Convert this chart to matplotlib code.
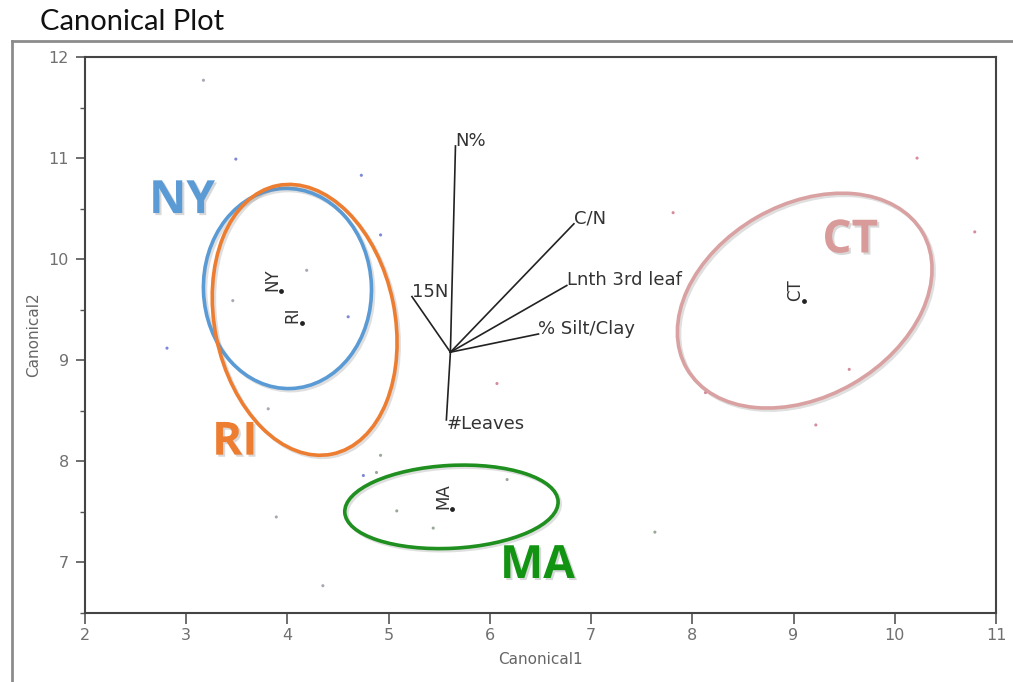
import matplotlib
matplotlib.use('Agg')
import matplotlib.pyplot as plt
import matplotlib.patheffects as pe
from matplotlib.patches import Ellipse
from matplotlib.lines import Line2D

# Group means
groups = ['NY', 'RI', 'MA', 'CT']
mean_x = [3.94, 4.14, 5.63, 9.10]
mean_y = [9.69, 9.37, 7.53, 9.59]

# Confidence ellipses: centre, width, height (data units) and tilt in degrees
ell_cx = [4.00, 4.17, 5.62, 9.11]
ell_cy = [9.71, 9.40, 7.55, 9.59]
ell_w = [1.66, 1.78, 2.11, 2.69]
ell_h = [1.98, 2.71, 0.82, 1.90]
ell_angle = [2, 11.5, 3, 30]

# Big group labels
label_x = [2.96, 3.48, 6.47, 9.56]
label_y = [10.58, 8.19, 6.97, 10.19]

# Individual observations
pts_x = [3.49, 4.73, 4.92, 4.60, 2.81, 4.75,
         3.17, 4.19, 3.46, 3.81, 3.89, 4.35,
         4.92, 4.88, 5.08, 5.44, 6.17, 7.63,
         6.07, 7.81, 10.22, 10.79, 9.55, 9.22, 8.13]
pts_y = [10.99, 10.83, 10.24, 9.43, 9.12, 7.86,
         11.77, 9.89, 9.59, 8.52, 7.45, 6.77,
         8.06, 7.89, 7.51, 7.34, 7.82, 7.30,
         8.77, 10.46, 11.00, 10.27, 8.91, 8.36, 8.68]
pts_group = ['NY'] * 6 + ['RI'] * 6 + ['MA'] * 6 + ['CT'] * 7

# Biplot rays
ray_origin = (5.61, 9.08)
ray_names = ['N%', 'C/N', 'Lnth 3rd leaf', '% Silt/Clay', '15N', '#Leaves']
ray_x = [5.66, 6.83, 6.76, 6.48, 5.23, 5.57]
ray_y = [11.12, 10.35, 9.74, 9.26, 9.63, 8.41]

ell_colors = {'NY': '#5b9bd5', 'RI': '#ed7d31', 'MA': '#1f8f1f', 'CT': '#d9a1a1'}
label_colors = {'NY': '#5b9bd5', 'RI': '#ed7d31', 'MA': '#129412', 'CT': '#d99a9a'}
pt_colors = {'NY': '#7d88d8', 'RI': '#a8a8b4', 'MA': '#9aa89a', 'CT': '#d68c9c'}

fig = plt.figure(figsize=(10.13, 6.82), dpi=100)
ax = fig.add_axes([85 / 1013, 69 / 682, 911 / 1013, 556 / 682])

# outer window frame
fig.add_artist(Line2D([12 / 1013, 1.0], [1 - 41 / 682, 1 - 41 / 682],
                      transform=fig.transFigure, color='#8c8c8c', lw=2))
fig.add_artist(Line2D([12 / 1013, 12 / 1013], [0, 1 - 41 / 682],
                      transform=fig.transFigure, color='#8c8c8c', lw=2))

fig.text(40 / 1013, 1 - 30 / 682, 'Canonical Plot', fontsize=21,
         family=['Lato', 'DejaVu Sans'], va='baseline', color='#111111')

# observations
ax.scatter(pts_x, pts_y, s=5, c=[pt_colors[g] for g in pts_group],
           linewidths=0, zorder=2)

# ellipses
for g, cx, cy, w, h, a in zip(groups, ell_cx, ell_cy, ell_w, ell_h, ell_angle):
    e = Ellipse((cx, cy), w, h, angle=a, fill=False, lw=2.6,
                edgecolor=ell_colors[g], zorder=3)
    e.set_path_effects([pe.SimpleLineShadow(offset=(1.5, -1.5), shadow_color='gray', alpha=0.25),
                        pe.Normal()])
    ax.add_patch(e)

# means with rotated labels
ax.scatter(mean_x, mean_y, s=6, color='#222222', zorder=4)
for g, cx, cy in zip(groups, mean_x, mean_y):
    ax.text(cx, cy, g, rotation=90, ha='right', va='bottom', fontsize=12,
            color='#333333', zorder=4)

# big group labels
for g, lx, ly in zip(groups, label_x, label_y):
    ax.text(lx, ly, g, ha='center', va='center', fontsize=33, fontweight='bold',
            family=['Open Sans', 'DejaVu Sans'], color=label_colors[g], zorder=5,
            path_effects=[pe.withSimplePatchShadow(offset=(1.5, -1.5),
                                                   shadow_rgbFace='gray', alpha=0.3)])

# biplot rays
for name, ex, ey in zip(ray_names, ray_x, ray_y):
    ax.plot([ray_origin[0], ex], [ray_origin[1], ey], color='#222222', lw=1.2, zorder=4)
    va = 'top' if ey < ray_origin[1] else 'baseline'
    ax.text(ex, ey + (0.05 if va == 'top' else 0), name, ha='left', va=va,
            fontsize=13, color='#333333', zorder=4)

ax.set_xlim(2, 11)
ax.set_ylim(6.5, 12)
ax.set_xticks(range(2, 12))
ax.set_yticks(range(7, 13))
ax.set_yticks([6.5 + i for i in range(6)], minor=True)
ax.tick_params(axis='both', which='major', direction='out', colors='#555555',
               labelcolor='#707070', labelsize=11.5, width=1.2)
ax.tick_params(axis='y', which='major', length=6.5, pad=5)
ax.tick_params(axis='y', which='minor', length=3.5, width=1.0, colors='#555555')
ax.tick_params(axis='x', which='major', length=8, pad=3)
for s in ax.spines.values():
    s.set_color('#444444')
    s.set_linewidth(1.5)

ax.set_xlabel('Canonical1', fontsize=11, color='#666666', labelpad=6)
ax.set_ylabel('Canonical2', fontsize=11, color='#666666', labelpad=5)

fig.savefig('out.png', dpi=100)
